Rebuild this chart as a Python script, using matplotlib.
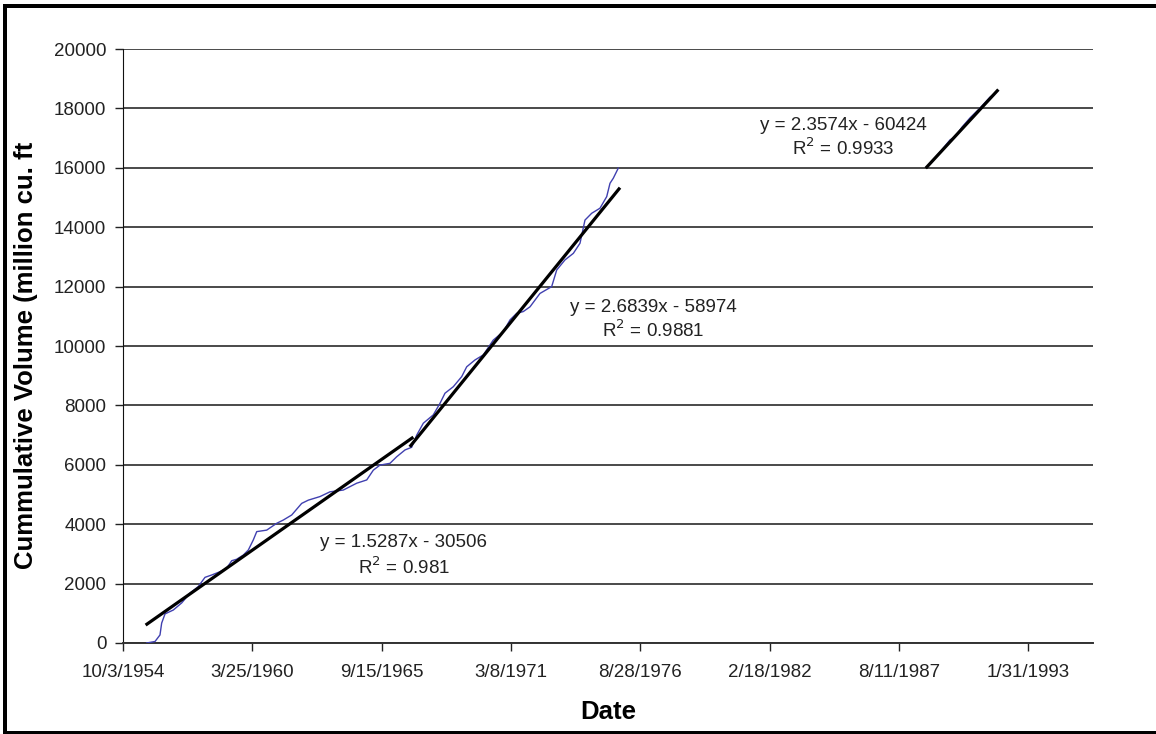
import matplotlib.pyplot as plt
from matplotlib.patches import Rectangle

plt.rcParams['font.family'] = ['Liberation Sans', 'DejaVu Sans']

# x values are Excel serial days (trend equations use them)
tick_days = [20000, 22000, 24000, 26000, 28000, 30000, 32000, 34000]
tick_labels = ['10/3/1954', '3/25/1960', '9/15/1965', '3/8/1971',
               '8/28/1976', '2/18/1982', '8/11/1987', '1/31/1993']

# measured cumulative volume, 1955-1976
days_a = [20366, 20495, 20572, 20598, 20650, 20778, 20908, 21036, 21164, 21268,
          21372, 21500, 21604, 21681, 21758, 21860, 21938, 22015, 22068, 22222,
          22377, 22479, 22609, 22763, 22866, 23046, 23201, 23407, 23614, 23769,
          23871, 23974, 24129, 24232, 24361, 24464, 24542, 24644, 24798, 24902,
          24979, 25108, 25238, 25315, 25443, 25572, 25726, 25881, 25985, 26088,
          26190, 26294, 26448, 26629, 26707, 26835, 26964, 27067, 27144, 27248,
          27376, 27480, 27531, 27582, 27659]
vol_a = [0, 50, 270, 670, 980, 1110, 1350, 1680, 1900, 2210,
         2290, 2400, 2520, 2770, 2820, 2960, 3130, 3470, 3750, 3800,
         4030, 4140, 4310, 4700, 4810, 4930, 5090, 5150, 5380, 5490,
         5820, 5990, 6050, 6270, 6500, 6590, 7000, 7400, 7680, 8070,
         8410, 8630, 8970, 9300, 9530, 9700, 10200, 10480, 10880, 11100,
         11160, 11320, 11770, 12000, 12560, 12900, 13120, 13460, 14240, 14470,
         14640, 15030, 15480, 15650, 15990]

# measured cumulative volume, 1988-1991
days_b = [32449, 32634, 32789, 32866, 32974, 33098, 33252, 33407, 33469]
vol_b = [16050, 16530, 16940, 17040, 17370, 17680, 18010, 18380, 18480]

# linear trendlines: slope, intercept, x range, label position
trend_slope = [1.5287, 2.6839, 2.3574]
trend_icpt = [-30506, -58974, -60424]
trend_start = [20370, 24450, 32430]
trend_end = [24470, 27670, 33520]
trend_r2 = ['0.981', '0.9881', '0.9933']
label_x = [24345, 28200, 31140]
label_y = [3367, 11313, 17440]
label_y2 = [2559, 10539, 16670]

fig = plt.figure(figsize=(11.56, 7.34), dpi=100)
ax = fig.add_axes([0.1064, 0.124, 0.8391, 0.8092])

ax.plot(days_a, vol_a, color='#4040b0', lw=1.0, zorder=3)
ax.plot(days_b, vol_b, color='#4040b0', lw=1.0, zorder=3)

for m, b, x0, x1, r2, lx, ly, ly2 in zip(trend_slope, trend_icpt, trend_start,
                                         trend_end, trend_r2, label_x, label_y, label_y2):
    ax.plot([x0, x1], [m * x0 + b, m * x1 + b], color='black', lw=2.3, zorder=4)
    ax.text(lx, ly, 'y = %.4fx - %d' % (m, -b), ha='center', va='center',
            fontsize=13.5, color='#222222')
    ax.text(lx, ly2, 'R$^2$ = ' + r2, ha='center', va='center',
            fontsize=13.5, color='#222222')

ax.set_xlim(20000, 35000)
ax.set_ylim(0, 20000)
ax.set_xticks(tick_days)
ax.set_xticklabels(tick_labels)
ax.set_yticks(range(0, 20001, 2000))
ax.tick_params(axis='both', labelsize=13.5, colors='#222222', length=6, width=1)
ax.tick_params(axis='x', pad=9)
ax.tick_params(axis='y', pad=6)

ax.grid(axis='y', color='#4a4a4a', lw=1.4)
ax.set_axisbelow(True)
for s in ['top', 'right']:
    ax.spines[s].set_visible(False)
ax.spines['left'].set_color('#111111')
ax.spines['bottom'].set_color('#333333')
ax.spines['bottom'].set_linewidth(1.4)

plt.rcParams['mathtext.fontset'] = 'custom'
plt.rcParams['mathtext.rm'] = 'Liberation Sans'

fig.text(0.0225, 0.516, 'Cummulative Volume (million cu. ft', rotation=90,
         ha='center', va='center', fontsize=18.5, fontweight='bold')
fig.text(0.526, 0.03, 'Date', ha='center', va='center',
         fontsize=18.5, fontweight='bold')

# black frame edges of the cropped picture
W, H = 1156, 734
fig.add_artist(Rectangle((3 / W, 0), 4 / W, 728 / H, transform=fig.transFigure,
                         color='black', lw=0))
fig.add_artist(Rectangle((3 / W, 0), 1, 3 / H, transform=fig.transFigure,
                         color='black', lw=0))
fig.add_artist(Rectangle((3 / W, 726 / H), 1, 4 / H, transform=fig.transFigure,
                         color='black', lw=0))

fig.savefig('out.png', dpi=100)
